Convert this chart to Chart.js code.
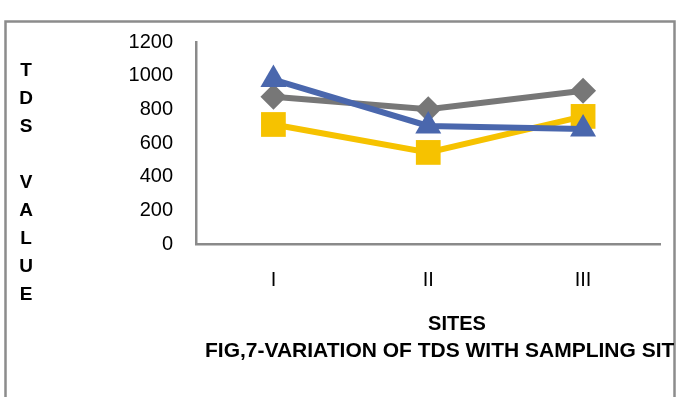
<!DOCTYPE html>
<html>
<head>
<meta charset="utf-8">
<script src="https://cdn.jsdelivr.net/npm/chart.js@4/dist/chart.umd.min.js"></script>
<style>
  html, body { margin: 0; padding: 0; background: #ffffff; }
  #wrap { width: 678px; height: 397px; }
</style>
</head>
<body>
<div id="wrap"><canvas id="chart" width="678" height="397"></canvas></div>
<script>
// Sampling sites and TDS readings per series
const sites = ['I', 'II', 'III'];
const seriesBlue = [977, 701, 683];
const seriesGray = [875, 800, 910];
const seriesYellow = [710, 544, 758];
const yTicks = [0, 200, 400, 600, 800, 1000, 1200];

const yTitle = 'TDS VALUE';
const xTitle = 'SITES';
const figTitle = 'FIG,7-VARIATION OF TDS WITH SAMPLING SITES';

const FONT = '"Liberation Sans", Arial, sans-serif';

// Frame, stacked axis title, x-axis title and figure caption
const decorations = {
  id: 'decorations',
  beforeDraw(chart) {
    const ctx = chart.ctx;
    ctx.save();
    ctx.fillStyle = '#ffffff';
    ctx.fillRect(0, 0, chart.width, chart.height);
    ctx.strokeStyle = '#8c8c8c';
    ctx.lineWidth = 2.5;
    ctx.strokeRect(5.5, 21.5, 669, 400);
    ctx.restore();
  },
  afterDraw(chart) {
    const ctx = chart.ctx;
    ctx.save();
    ctx.fillStyle = '#000000';
    ctx.textAlign = 'center';
    ctx.textBaseline = 'middle';
    ctx.font = 'bold 19px ' + FONT;
    let y = 71;
    for (const ch of yTitle) {
      if (ch !== ' ') ctx.fillText(ch, 26, y);
      y += 28;
    }
    ctx.font = 'bold 20px ' + FONT;
    ctx.fillText(xTitle, 457, 324);
    ctx.beginPath();
    ctx.rect(0, 0, 674, chart.height);
    ctx.clip();
    ctx.textAlign = 'left';
    ctx.font = 'bold 21px ' + FONT;
    ctx.fillText(figTitle, 205, 351);
    ctx.restore();
  }
};

new Chart(document.getElementById('chart'), {
  type: 'line',
  data: {
    labels: sites,
    datasets: [
      {
        label: 'Series 3',
        data: seriesBlue,
        borderColor: '#4a67ad',
        backgroundColor: '#4a67ad',
        borderWidth: 6,
        pointStyle: 'triangle',
        pointRadius: 15,
        pointBorderWidth: 0,
        clip: false
      },
      {
        label: 'Series 2',
        data: seriesYellow,
        borderColor: '#f6c200',
        backgroundColor: '#f6c200',
        borderWidth: 6,
        pointStyle: 'rect',
        pointRadius: 17.5,
        pointBorderWidth: 0,
        clip: false
      },
      {
        label: 'Series 1',
        data: seriesGray,
        borderColor: '#777777',
        backgroundColor: '#777777',
        borderWidth: 6,
        pointStyle: 'rectRot',
        pointRadius: 13,
        pointBorderWidth: 0,
        clip: false
      }
    ]
  },
  options: {
    responsive: false,
    animation: false,
    events: [],
    layout: { padding: { top: 42, right: 16, bottom: 0, left: 0 } },
    plugins: {
      legend: { display: false },
      tooltip: { enabled: false },
      title: { display: false }
    },
    elements: { line: { tension: 0 } },
    scales: {
      x: {
        type: 'category',
        offset: true,
        grid: { display: false, drawTicks: false },
        border: { display: true, color: '#8a8a8a', width: 2.5 },
        ticks: {
          color: '#000000',
          font: { family: FONT, size: 20 },
          padding: 24,
          maxRotation: 0
        },
        afterFit(scale) { scale.height = 153; }
      },
      y: {
        min: 0,
        max: 1200,
        afterBuildTicks(scale) { scale.ticks = yTicks.map(v => ({ value: v })); },
        grid: { display: false, drawTicks: false },
        border: { display: true, color: '#8a8a8a', width: 2.5 },
        ticks: {
          color: '#000000',
          font: { family: FONT, size: 20 },
          padding: 23,
          callback: v => String(v)
        },
        afterFit(scale) { scale.width = 196; }
      }
    }
  },
  plugins: [decorations]
});
</script>
</body>
</html>
